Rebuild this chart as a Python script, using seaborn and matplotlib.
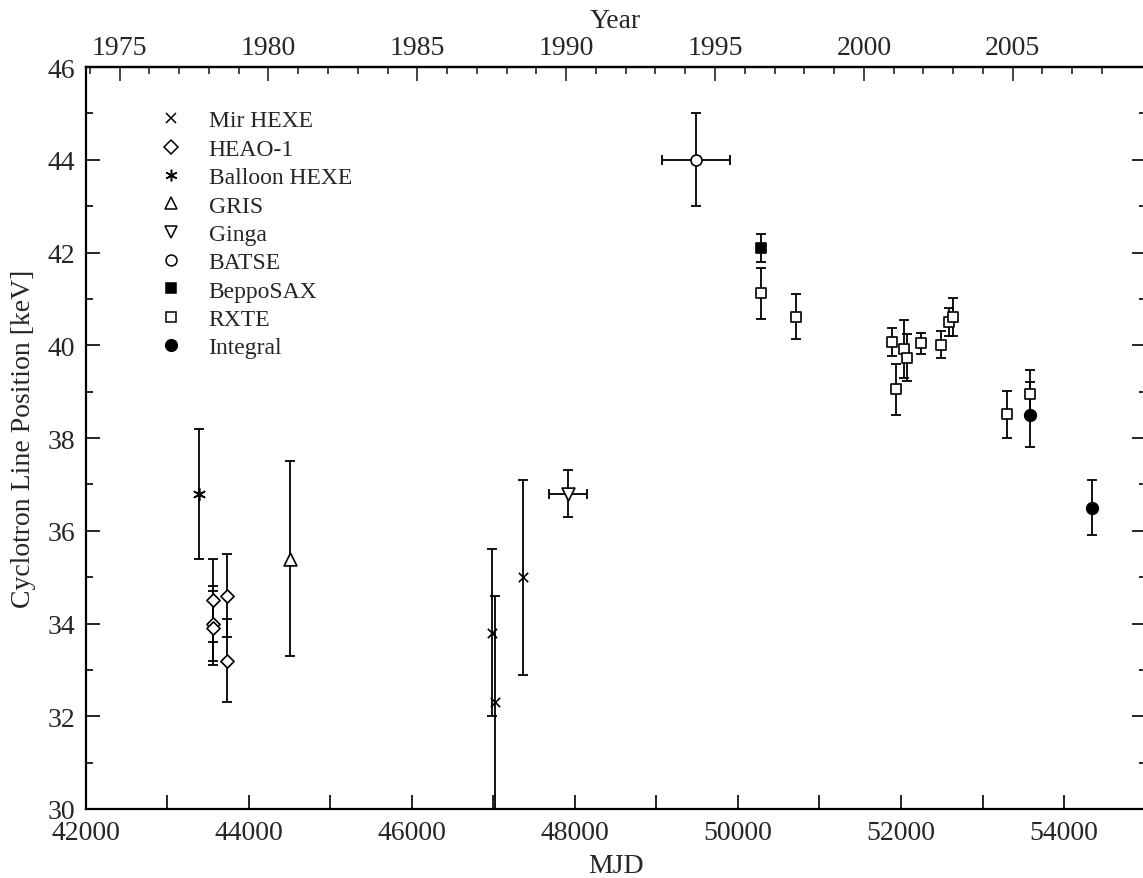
import numpy as np
import pandas as pd
import matplotlib
matplotlib.use("Agg")
import matplotlib.pyplot as plt
from matplotlib.lines import Line2D
from matplotlib.ticker import MultipleLocator, FixedLocator
import seaborn as sns

# cyclotron line energy vs time
instrument = ["Balloon HEXE", "HEAO-1", "HEAO-1", "HEAO-1", "HEAO-1", "HEAO-1",
              "GRIS", "Mir HEXE", "Mir HEXE", "Mir HEXE", "Ginga", "BATSE",
              "BeppoSAX", "RXTE", "RXTE", "RXTE", "RXTE", "RXTE", "RXTE",
              "RXTE", "RXTE", "RXTE", "RXTE", "RXTE", "RXTE",
              "Integral", "Integral"]
mjd = [43383, 43562, 43562, 43562, 43734, 43734,
       44503, 46978, 47018, 47366, 47915, 49483,
       50278, 50278, 50707, 51894, 51935, 52033, 52070,
       52242, 52491, 52589, 52634, 53300, 53579,
       53579, 54347]
mjd_err = [0, 0, 0, 0, 0, 0,
           0, 0, 0, 0, 230, 420,
           0, 0, 0, 0, 0, 0, 0,
           0, 0, 0, 0, 0, 0,
           0, 0]
energy = [36.8, 34.5, 34.0, 33.9, 34.6, 33.2,
          35.4, 33.8, 32.3, 35.0, 36.8, 44.0,
          42.1, 41.12, 40.62, 40.07, 39.05, 39.92, 39.73,
          40.04, 40.01, 40.51, 40.60, 38.51, 38.95,
          38.5, 36.5]
energy_err = [1.4, 0.9, 0.8, 0.8, 0.9, 0.9,
              2.1, 1.8, 2.3, 2.1, 0.5, 1.0,
              0.3, 0.55, 0.49, 0.31, 0.55, 0.63, 0.51,
              0.22, 0.29, 0.3, 0.41, 0.51, 0.52,
              0.7, 0.6]

legend_order = ["Mir HEXE", "HEAO-1", "Balloon HEXE", "GRIS", "Ginga",
                "BATSE", "BeppoSAX", "RXTE", "Integral"]
year_ticks = [1975, 1980, 1985, 1990, 1995, 2000, 2005]

df = pd.DataFrame({"Instrument": instrument, "MJD": mjd, "MJD_err": mjd_err,
                   "E": energy, "E_err": energy_err})

# marker, size (pt^2), filled?
styles = {
    "Mir HEXE": ("x", 45, True),
    "HEAO-1": ("D", 45, False),
    "Balloon HEXE": ((6, 2, 0), 70, True),
    "GRIS": ("^", 85, False),
    "Ginga": ("v", 85, False),
    "BATSE": ("o", 62, False),
    "BeppoSAX": ("s", 50, True),
    "RXTE": ("s", 50, False),
    "Integral": ("o", 70, True),
}

sns.set_theme(style="ticks")
plt.rcParams["font.family"] = ["Liberation Serif", "DejaVu Serif"]

fig = plt.figure(figsize=(11.43, 8.79), dpi=100)
ax = fig.add_axes([0.0752, 0.0785, 0.9270, 0.8441])

ax.errorbar(df["MJD"], df["E"], yerr=df["E_err"],
            xerr=df["MJD_err"].where(df["MJD_err"] > 0),
            fmt="none", ecolor="black", elinewidth=1.3, capsize=3.5,
            capthick=1.3, zorder=2)

for name in legend_order:
    sub = df[df["Instrument"] == name]
    m, s, filled = styles[name]
    if m == "x" or isinstance(m, tuple):
        sns.scatterplot(data=sub, x="MJD", y="E", marker=m, s=s,
                        color="black", linewidth=1.2, ax=ax, zorder=3,
                        legend=False)
    else:
        sns.scatterplot(data=sub, x="MJD", y="E", marker=m, s=s,
                        facecolor="black" if filled else "white",
                        edgecolor="black", linewidth=1.2, ax=ax, zorder=3,
                        legend=False)

ax.set_xlim(42000, 55000)
ax.set_ylim(30, 46)
ax.xaxis.set_major_locator(MultipleLocator(2000))
ax.xaxis.set_minor_locator(MultipleLocator(1000))
ax.yaxis.set_major_locator(MultipleLocator(2))
ax.yaxis.set_minor_locator(MultipleLocator(1))
ax.tick_params(which="both", direction="in", labelsize=20, width=1.2,
               top=False, right=True, color="black")
ax.tick_params(axis="x", which="major", length=10, pad=8)
ax.tick_params(axis="x", which="minor", length=10)
ax.tick_params(axis="y", which="major", length=10, pad=8)
ax.tick_params(axis="y", which="minor", length=5)
for sp in ax.spines.values():
    sp.set_linewidth(1.6)
    sp.set_color("black")

ax.set_xlabel("MJD", fontsize=20, labelpad=6)
ax.set_ylabel("Cyclotron Line Position [keV]", fontsize=20, labelpad=8)


def mjd2year(x):
    return 2000.0 + (np.asarray(x) - 51544.5) / 365.25


def year2mjd(y):
    return 51544.5 + (np.asarray(y) - 2000.0) * 365.25


top = ax.secondary_xaxis("top", functions=(mjd2year, year2mjd))
top.xaxis.set_major_locator(FixedLocator(year_ticks))
top.xaxis.set_minor_locator(FixedLocator(list(range(1974, 2009))))
top.tick_params(which="both", direction="in", labelsize=20, width=1.2)
top.tick_params(which="major", length=10, pad=5)
top.tick_params(which="minor", length=5)
top.spines["top"].set_linewidth(1.6)
top.set_xlabel("Year", fontsize=20, labelpad=6)

handles = []
for name in legend_order:
    m, s, filled = styles[name]
    ms = np.sqrt(s)
    if m == "x" or isinstance(m, tuple):
        h = Line2D([], [], linestyle="none", marker=m, markersize=ms,
                   color="black", markeredgewidth=1.1)
    else:
        h = Line2D([], [], linestyle="none", marker=m, markersize=ms,
                   markerfacecolor="black" if filled else "white",
                   markeredgecolor="black", markeredgewidth=1.1)
    handles.append(h)

ax.legend(handles, legend_order, loc="upper left",
          bbox_to_anchor=(0.060, 0.955), frameon=False, fontsize=17,
          handlelength=1.0, handletextpad=1.1, labelspacing=0.29,
          borderaxespad=0)

fig.savefig("out.png", dpi=100)
